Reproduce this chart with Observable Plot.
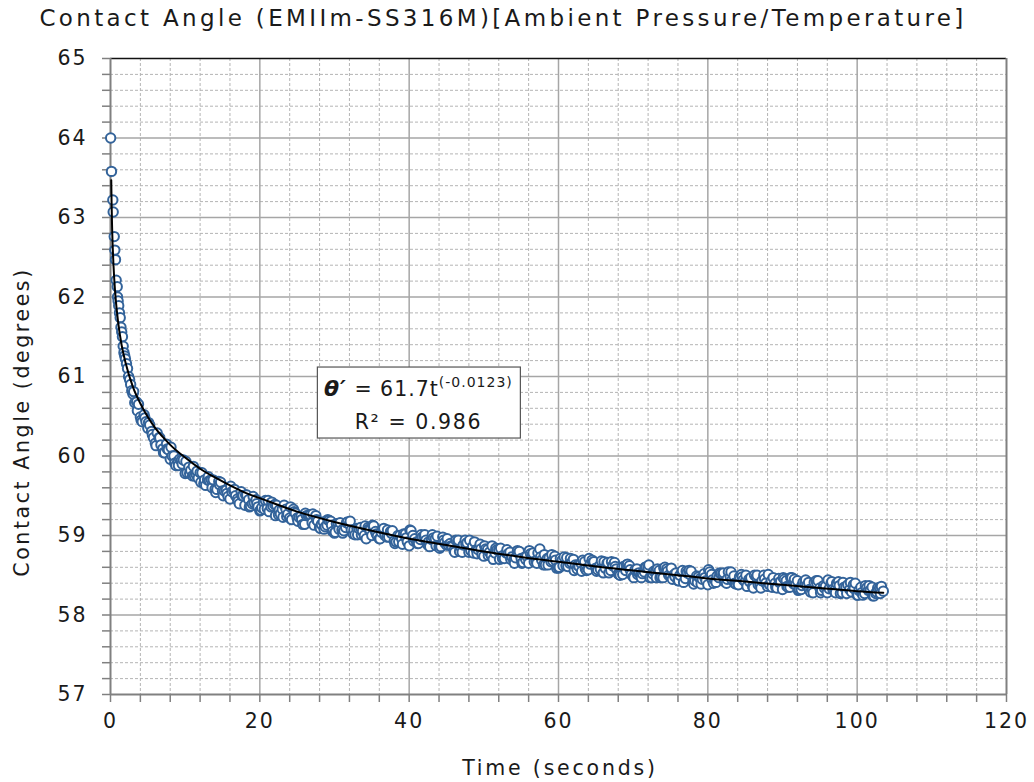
<!DOCTYPE html>
<html><head><meta charset="utf-8">
<script src="https://cdn.jsdelivr.net/npm/d3@7"></script>
<script src="https://cdn.jsdelivr.net/npm/@observablehq/plot@0.6"></script>
<style>
body{margin:0;background:#fff;font-family:"DejaVu Sans",Verdana,sans-serif;}
#wrap{position:relative;width:1034px;height:782px;}
#title{position:absolute;top:4px;left:503px;transform:translateX(-50%);white-space:nowrap;font-size:23px;letter-spacing:3.35px;color:#1a1a1a;line-height:28px;}
#chart{position:absolute;top:40px;left:0;}
#chart text{letter-spacing:2px;}
</style></head>
<body>
<div id="wrap"><div id="title"></div><div id="chart"></div></div>
<script>
const titleText = "Contact Angle (EMIIm-SS316M)[Ambient Pressure/Temperature]";
const xLabel = "Time (seconds)";
const yLabel = "Contact Angle (degrees)";
const xMajor = [0,20,40,60,80,100,120];
const xMinor = [4,8,12,16,24,28,32,36,44,48,52,56,64,68,72,76,84,88,92,96,104,108,112,116];
const yMajor = [57,58,59,60,61,62,63,64,65];
const yMinor = [57.2,57.4,57.6,57.8,58.2,58.4,58.6,58.8,59.2,59.4,59.6,59.8,60.2,60.4,60.6,60.8,61.2,61.4,61.6,61.8,62.2,62.4,62.6,62.8,63.2,63.4,63.6,63.8,64.2,64.4,64.6,64.8];

// measured contact angle, frame set A
const time = [0.02,0.13,0.31,0.36,0.50,0.58,0.67,0.76,0.90,0.94,1.02,1.10,1.20,1.30,1.40,1.50,1.60,1.70,1.80,1.90,2.00,2.14,2.28,2.42,2.56,2.70,2.85,3.00,
3.5,4,4.5,5,5.5,6,6.5,7,7.5,8,8.5,9,9.5,10,10.5,11,11.5,12,12.5,13,13.5,14,14.5,15,15.5,16,16.5,17,17.5,18,18.5,19,19.5,20,
20.5,21,21.5,22,22.5,23,23.5,24,24.5,25,25.5,26,26.5,27,27.5,28,28.5,29,29.5,30,
30.5,31,31.5,32,32.5,33,33.5,34,34.5,35,35.5,36,36.5,37,37.5,38,38.5,39,39.5,40,
40.5,41,41.5,42,42.5,43,43.5,44,44.5,45,45.5,46,46.5,47,47.5,48,48.5,49,49.5,50,
50.5,51,51.5,52,52.5,53,53.5,54,54.5,55,55.5,56,56.5,57,57.5,58,58.5,59,59.5,60,
60.5,61,61.5,62,62.5,63,63.5,64,64.5,65,65.5,66,66.5,67,67.5,68,68.5,69,69.5,70,
70.5,71,71.5,72,72.5,73,73.5,74,74.5,75,75.5,76,76.5,77,77.5,78,78.5,79,79.5,80,
80.5,81,81.5,82,82.5,83,83.5,84,84.5,85,85.5,86,86.5,87,87.5,88,88.5,89,89.5,90,
90.5,91,91.5,92,92.5,93,93.5,94,94.5,95,95.5,96,96.5,97,97.5,98,98.5,99,99.5,100,
100.5,101,101.5,102,102.5,103,103.5];
const angle = [64.00,63.58,63.22,63.07,62.76,62.59,62.47,62.21,62.13,62.00,61.95,61.89,61.80,61.74,61.62,61.56,61.50,61.38,61.30,61.26,61.22,61.16,61.10,61.00,60.96,60.90,60.82,60.78,
60.68,60.49,60.52,60.35,60.31,60.16,60.23,60.09,60.15,59.96,60.00,59.93,59.95,59.78,59.86,59.75,59.76,59.79,59.65,59.70,59.70,59.58,59.68,59.56,59.57,59.46,59.56,59.46,59.55,59.38,59.45,59.40,59.45,59.31,
59.42,59.34,59.36,59.39,59.26,59.33,59.33,59.22,59.33,59.22,59.24,59.14,59.25,59.16,59.25,59.10,59.17,59.13,59.18,59.03,
59.15,59.07,59.10,59.14,59.02,59.09,59.10,59.00,59.10,59.00,59.05,58.96,59.07,58.98,59.05,58.93,59.00,58.96,59.02,58.87,
59.00,58.92,58.95,58.99,58.88,58.95,58.96,58.86,58.98,58.88,58.90,58.81,58.93,58.84,58.94,58.79,58.86,58.82,58.89,58.74,
58.82,58.75,58.78,58.82,58.71,58.78,58.79,58.69,58.81,58.71,58.73,58.65,58.76,58.68,58.83,58.63,58.71,58.67,58.74,58.59,
58.69,58.62,58.65,58.70,58.58,58.65,58.67,58.57,58.69,58.59,58.62,58.53,58.65,58.56,58.66,58.52,58.60,58.56,58.62,58.48,
58.58,58.51,58.54,58.59,58.47,58.55,58.56,58.47,58.58,58.49,58.51,58.43,58.54,58.46,58.56,58.42,58.49,58.46,58.52,58.38,
58.51,58.43,58.47,58.51,58.40,58.48,58.49,58.40,58.51,58.42,58.45,58.36,58.48,58.39,58.50,58.36,58.43,58.40,58.46,58.32,
58.43,58.35,58.39,58.43,58.32,58.40,58.41,58.32,58.43,58.34,58.37,58.28,58.40,58.31,58.42,58.28,58.35,58.32,58.38,58.25,
58.35,58.27,58.31,58.35,58.27,58.34,58.30];

// frame set B
const timeB = [3.25,3.75,4.25,4.75,5.25,5.75,6.25,6.75,7.25,7.75,8.25,8.75,9.25,9.75,10.25,10.75,11.25,11.75,12.25,12.75,13.25,13.75,14.25,14.75,15.25,15.75,16.25,16.75,17.25,17.75,18.25,18.75,19.25,19.75,
20.25,20.75,21.25,21.75,22.25,22.75,23.25,23.75,24.25,24.75,25.25,25.75,26.25,26.75,27.25,27.75,28.25,28.75,29.25,29.75,
30.25,30.75,31.25,31.75,32.25,32.75,33.25,33.75,34.25,34.75,35.25,35.75,36.25,36.75,37.25,37.75,38.25,38.75,39.25,39.75,
40.25,40.75,41.25,41.75,42.25,42.75,43.25,43.75,44.25,44.75,45.25,45.75,46.25,46.75,47.25,47.75,48.25,48.75,49.25,49.75,
50.25,50.75,51.25,51.75,52.25,52.75,53.25,53.75,54.25,54.75,55.25,55.75,56.25,56.75,57.25,57.75,58.25,58.75,59.25,59.75,
60.25,60.75,61.25,61.75,62.25,62.75,63.25,63.75,64.25,64.75,65.25,65.75,66.25,66.75,67.25,67.75,68.25,68.75,69.25,69.75,
70.25,70.75,71.25,71.75,72.25,72.75,73.25,73.75,74.25,74.75,75.25,75.75,76.25,76.75,77.25,77.75,78.25,78.75,79.25,79.75,
80.25,80.75,81.25,81.75,82.25,82.75,83.25,83.75,84.25,84.75,85.25,85.75,86.25,86.75,87.25,87.75,88.25,88.75,89.25,89.75,
90.25,90.75,91.25,91.75,92.25,92.75,93.25,93.75,94.25,94.75,95.25,95.75,96.25,96.75,97.25,97.75,98.25,98.75,99.25,99.75,
100.25,100.75,101.25,101.75,102.25,102.75,103.25];
const angleB = [60.67,60.65,60.43,60.43,60.39,60.23,60.29,60.14,60.04,60.08,60.00,59.88,59.96,59.95,59.79,59.82,59.75,59.72,59.79,59.63,59.69,59.70,59.58,59.67,59.56,59.49,59.55,59.50,59.40,59.50,59.51,59.37,59.41,59.36,
59.35,59.44,59.30,59.37,59.38,59.27,59.38,59.27,59.20,59.28,59.23,59.14,59.25,59.26,59.13,59.18,59.14,59.11,59.19,59.05,
59.15,59.16,59.06,59.17,59.07,59.01,59.09,59.05,58.96,59.07,59.12,58.99,59.04,59.00,58.98,59.06,58.92,59.00,59.02,58.92,
59.06,58.96,58.90,58.98,58.94,58.86,58.97,58.99,58.86,58.91,58.88,58.86,58.94,58.80,58.88,58.91,58.81,58.92,58.82,58.76,
58.83,58.79,58.70,58.82,58.84,58.71,58.77,58.73,58.72,58.80,58.66,58.74,58.77,58.67,58.78,58.69,58.63,58.72,58.68,58.59,
58.71,58.73,58.61,58.66,58.63,58.61,58.69,58.56,58.64,58.67,58.57,58.68,58.59,58.53,58.62,58.58,58.50,58.61,58.64,58.51,
58.57,58.53,58.52,58.60,58.47,58.55,58.58,58.48,58.60,58.50,58.45,58.53,58.50,58.41,58.53,58.55,58.43,58.48,58.45,58.43,
58.54,58.40,58.49,58.52,58.42,58.54,58.44,58.39,58.48,58.44,58.36,58.47,58.50,58.38,58.43,58.40,58.38,58.47,58.34,58.42,
58.45,58.35,58.47,58.38,58.32,58.41,58.37,58.29,58.41,58.43,58.31,58.36,58.33,58.32,58.40,58.27,58.35,58.38,58.29,58.40,
58.31,58.25,58.34,58.31,58.24,58.34,58.36];

// frame set C
const timeC = [3.1,4.1,5.1,6.1,7.1,8.1,9.1,10.1,11.1,12.1,13.1,14.1,15.1,16.1,17.1,18.1,19.1,20.1,21.1,22.1,23.1,24.1,25.1,26.1,27.1,28.1,29.1,30.1,
31.1,32.1,33.1,34.1,35.1,36.1,37.1,38.1,39.1,40.1,41.1,42.1,43.1,44.1,45.1,46.1,47.1,48.1,49.1,50.1,51.1,52.1,53.1,54.1,55.1,56.1,57.1,58.1,59.1,60.1,
61.1,62.1,63.1,64.1,65.1,66.1,67.1,68.1,69.1,70.1,71.1,72.1,73.1,74.1,75.1,76.1,77.1,78.1,79.1,80.1,81.1,82.1,83.1,84.1,85.1,86.1,87.1,88.1,89.1,90.1,
91.1,92.1,93.1,94.1,95.1,96.1,97.1,98.1,99.1,100.1,101.1,102.1,103.1];
const angleC = [60.81,60.45,60.42,60.13,60.04,60.11,59.88,59.93,59.87,59.67,59.74,59.54,59.50,59.62,59.43,59.51,59.49,59.32,59.44,59.25,59.23,59.36,59.18,59.28,59.27,59.09,59.20,59.04,
59.03,59.18,59.01,59.12,59.13,58.96,59.07,58.90,58.89,59.07,58.90,59.01,59.01,58.84,58.96,58.79,58.79,58.94,58.77,58.87,58.87,58.70,58.82,58.65,58.65,58.81,58.65,58.76,58.76,58.60,
58.72,58.56,58.55,58.71,58.55,58.67,58.67,58.51,58.63,58.47,58.47,58.63,58.47,58.59,58.59,58.43,58.55,58.39,58.39,58.57,58.41,58.53,58.54,58.38,58.50,58.34,58.34,58.51,58.35,58.47,
58.47,58.31,58.44,58.28,58.28,58.44,58.28,58.41,58.41,58.25,58.37,58.24,58.27];

// frame set D
const timeD = [3.6,4.6,5.6,6.6,7.6,8.6,9.6,10.6,11.6,12.6,13.6,14.6,15.6,16.6,17.6,18.6,19.6,20.6,21.6,22.6,23.6,24.6,25.6,26.6,27.6,28.6,29.6,30.6,
31.6,32.6,33.6,34.6,35.6,36.6,37.6,38.6,39.6,40.6,41.6,42.6,43.6,44.6,45.6,46.6,47.6,48.6,49.6,50.6,51.6,52.6,53.6,54.6,55.6,56.6,57.6,58.6,59.6,60.6,
61.6,62.6,63.6,64.6,65.6,66.6,67.6,68.6,69.6,70.6,71.6,72.6,73.6,74.6,75.6,76.6,77.6,78.6,79.6,80.6,81.6,82.6,83.6,84.6,85.6,86.6,87.6,88.6,89.6,90.6,
91.6,92.6,93.6,94.6,95.6,96.6,97.6,98.6,99.6,100.6,101.6,102.6];
const angleD = [60.57,60.48,60.27,60.23,60.09,59.91,59.90,59.78,59.81,59.70,59.60,59.64,59.53,59.58,59.50,59.36,59.40,59.33,59.42,59.32,59.24,59.30,59.20,59.26,59.20,59.08,59.13,59.08,
59.16,59.07,59.01,59.08,59.02,59.09,59.03,58.92,58.97,58.93,59.01,58.92,58.87,58.94,58.87,58.94,58.89,58.78,58.83,58.75,58.84,58.75,58.70,58.78,58.70,58.78,58.73,58.63,58.69,58.62,
58.71,58.63,58.58,58.66,58.58,58.66,58.61,58.51,58.57,58.51,58.60,58.52,58.47,58.55,58.48,58.56,58.51,58.41,58.47,58.44,58.53,58.45,58.40,58.48,58.42,58.50,58.45,58.35,58.41,58.36,
58.45,58.37,58.32,58.40,58.34,58.42,58.37,58.27,58.33,58.28,58.37,58.29];

// power trendline as drawn in the chart (theta' = 61.7 t^-0.0123), read at these times
const fitTime = [0.1,0.15,0.2,0.3,0.4,0.5,0.7,1,1.5,2,3,4,5,6,7,8,10,12,14,16,18,20,25,30,35,40,45,50,55,60,65,70,75,80,85,90,95,100,103.5];
const fitAngle = [63.47,63.16,62.93,62.62,62.40,62.23,61.97,61.70,61.39,61.18,60.87,60.66,60.49,60.35,60.24,60.14,59.98,59.84,59.73,59.63,59.54,59.47,59.30,59.17,59.06,58.96,58.88,58.80,58.73,58.67,58.61,58.56,58.51,58.46,58.42,58.38,58.34,58.30,58.28];

const eqLead = "θ′";
const eqBody = " = 61.7t";
const eqExp = "(-0.0123)";
const r2Text = "R² = 0.986";
const notePos = {t: 41.3, a: 60.66};

document.getElementById("title").textContent = titleText;

const toPts = (ts, as) => ts.map((t, i) => ({t, a: as[i]}));
const points = [].concat(toPts(time, angle), toPts(timeB, angleB), toPts(timeC, angleC), toPts(timeD, angleD))
  .sort((p, q) => p.t - q.t);
const fit = toPts(fitTime, fitAngle);

const plot = Plot.plot({
  width: 1034, height: 742,
  marginTop: 18, marginBottom: 88, marginLeft: 110, marginRight: 28,
  style: {fontFamily: "'DejaVu Sans', Verdana, sans-serif", fontSize: "20.5px", color: "#1a1a1a", background: "white", overflow: "visible"},
  x: {domain: [0, 120]},
  y: {domain: [57, 65]},
  marks: [
    Plot.gridX(xMinor, {stroke: "#b4b4b4", strokeOpacity: 1, strokeWidth: 1, strokeDasharray: "3,2"}),
    Plot.gridY(yMinor, {stroke: "#b4b4b4", strokeOpacity: 1, strokeWidth: 1, strokeDasharray: "3,2"}),
    Plot.gridX(xMajor.slice(1, -1), {stroke: "#a6a6a6", strokeOpacity: 1, strokeWidth: 1.5}),
    Plot.gridY(yMajor.slice(1, -1), {stroke: "#a6a6a6", strokeOpacity: 1, strokeWidth: 1.5}),
    Plot.ruleY([65], {stroke: "#111", strokeWidth: 1.5}),
    Plot.ruleX([120], {stroke: "#808080", strokeWidth: 2}),
    Plot.axisX(xMinor, {tickSize: 8, stroke: "#808080", strokeWidth: 1.5, text: null, label: null}),
    Plot.axisY(yMinor, {tickSize: 8, stroke: "#808080", strokeWidth: 1.5, text: null, label: null}),
    Plot.axisX(xMajor, {tickSize: 8, tickPadding: 11, stroke: "#808080", strokeWidth: 1.5, label: null, fontSize: 20.5, tickFormat: d3.format("d")}),
    Plot.axisY(yMajor, {tickSize: 8, tickPadding: 15, stroke: "#808080", strokeWidth: 1.5, label: null, fontSize: 20.5, tickFormat: d3.format("d")}),
    Plot.ruleX([0], {stroke: "#808080", strokeWidth: 2}),
    Plot.ruleY([57], {stroke: "#808080", strokeWidth: 2}),
    Plot.dot(points, {x: "t", y: "a", r: 4.7, stroke: "#33639a", strokeWidth: 2, fill: "white"}),
    Plot.line(fit, {x: "t", y: "a", stroke: "#000", strokeWidth: 2, curve: "monotone-x"})
  ]
});
document.getElementById("chart").appendChild(plot);

const svg = d3.select(plot);
const xs = plot.scale("x"), ys = plot.scale("y");
// axis titles
svg.append("text").attr("x", 560).attr("y", 735).attr("text-anchor", "middle")
  .attr("font-size", 20.5).attr("fill", "#1a1a1a").style("letter-spacing", "2.8px").text(xLabel);
svg.append("text").attr("transform", "translate(29,382) rotate(-90)").attr("text-anchor", "middle")
  .attr("font-size", 20.5).attr("fill", "#1a1a1a").style("letter-spacing", "2.6px").text(yLabel);

// equation box
const cx = xs.apply(notePos.t), cy = ys.apply(notePos.a);
const g = svg.append("g");
g.append("rect").attr("x", cx - 101).attr("y", cy - 36).attr("width", 203).attr("height", 71)
  .attr("fill", "white").attr("stroke", "#555").attr("stroke-width", 1.2);
const t1 = g.append("text").attr("x", cx).attr("y", cy - 7).attr("text-anchor", "middle")
  .attr("font-size", 20.5).attr("fill", "#1a1a1a").style("letter-spacing", "1px");
t1.append("tspan").attr("font-weight", "bold").attr("font-style", "italic").attr("font-size", 22).text(eqLead);
t1.append("tspan").text(eqBody);
t1.append("tspan").attr("font-size", 14).attr("dy", -9).text(eqExp);
g.append("text").attr("x", cx).attr("y", cy + 26).attr("text-anchor", "middle")
  .attr("font-size", 20.5).attr("fill", "#1a1a1a").style("letter-spacing", "1.6px").text(r2Text);
</script>
</body></html>
